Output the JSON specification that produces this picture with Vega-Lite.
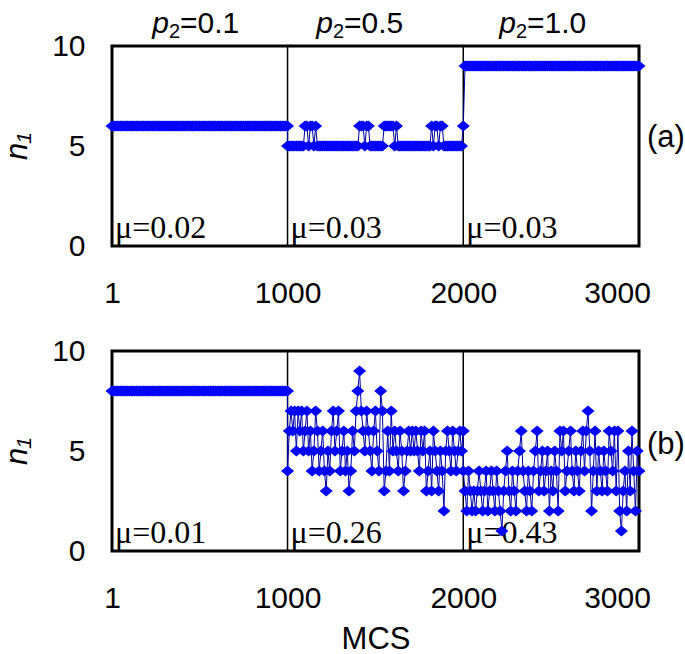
{
"$schema": "https://vega.github.io/schema/vega-lite/v6.json",
"padding": {"left": 0, "top": 7, "right": 0, "bottom": 0},
"bounds": "flush",
"spacing": 105,
"config": {
 "font": "Liberation Sans",
 "view": {"stroke": "black", "strokeWidth": 3},
 "axis": {"domain": false, "ticks": false, "grid": false, "labelColor": "black", "titleColor": "black", "titleFontWeight": "normal", "labelFontSize": 30, "titleFontSize": 31},
 "axisX": {"labelFontSize": 30, "labelPadding": 32, "labelFlush": false, "format": "d"},
 "axisY": {"labelPadding": 27, "titlePadding": 18}
},
"datasets": {
 "a": [
{"x":1,"y":6},{"x":10,"y":6},{"x":20,"y":6},{"x":30,"y":6},{"x":40,"y":6},{"x":50,"y":6},{"x":60,"y":6},{"x":70,"y":6},{"x":80,"y":6},{"x":90,"y":6},{"x":100,"y":6},{"x":110,"y":6},{"x":120,"y":6},{"x":130,"y":6},{"x":140,"y":6},{"x":150,"y":6},{"x":160,"y":6},{"x":170,"y":6},{"x":180,"y":6},{"x":190,"y":6},{"x":200,"y":6},{"x":210,"y":6},{"x":220,"y":6},{"x":230,"y":6},{"x":240,"y":6},{"x":250,"y":6},{"x":260,"y":6},{"x":270,"y":6},{"x":280,"y":6},{"x":290,"y":6},{"x":300,"y":6},{"x":310,"y":6},{"x":320,"y":6},{"x":330,"y":6},{"x":340,"y":6},{"x":350,"y":6},{"x":360,"y":6},{"x":370,"y":6},{"x":380,"y":6},{"x":390,"y":6},{"x":400,"y":6},{"x":410,"y":6},{"x":420,"y":6},{"x":430,"y":6},{"x":440,"y":6},{"x":450,"y":6},{"x":460,"y":6},{"x":470,"y":6},{"x":480,"y":6},{"x":490,"y":6},{"x":500,"y":6},{"x":510,"y":6},{"x":520,"y":6},{"x":530,"y":6},{"x":540,"y":6},{"x":550,"y":6},{"x":560,"y":6},{"x":570,"y":6},{"x":580,"y":6},{"x":590,"y":6},{"x":600,"y":6},{"x":610,"y":6},{"x":620,"y":6},{"x":630,"y":6},{"x":640,"y":6},{"x":650,"y":6},{"x":660,"y":6},{"x":670,"y":6},{"x":680,"y":6},{"x":690,"y":6},{"x":700,"y":6},{"x":710,"y":6},{"x":720,"y":6},{"x":730,"y":6},{"x":740,"y":6},{"x":750,"y":6},{"x":760,"y":6},{"x":770,"y":6},{"x":780,"y":6},{"x":790,"y":6},{"x":800,"y":6},{"x":810,"y":6},{"x":820,"y":6},{"x":830,"y":6},{"x":840,"y":6},{"x":850,"y":6},{"x":860,"y":6},{"x":870,"y":6},{"x":880,"y":6},{"x":890,"y":6},{"x":900,"y":6},{"x":910,"y":6},{"x":920,"y":6},{"x":930,"y":6},{"x":940,"y":6},{"x":950,"y":6},{"x":960,"y":6},{"x":970,"y":6},{"x":980,"y":6},{"x":990,"y":6},{"x":1000,"y":6},
{"x":1000,"y":5},{"x":1010,"y":5},{"x":1020,"y":5},{"x":1030,"y":5},{"x":1040,"y":5},{"x":1050,"y":5},{"x":1060,"y":5},{"x":1070,"y":5},{"x":1080,"y":5},{"x":1090,"y":5},
{"x":1100,"y":6},{"x":1110,"y":6},{"x":1120,"y":5},{"x":1130,"y":6},{"x":1140,"y":6},{"x":1150,"y":5},{"x":1160,"y":6},{"x":1170,"y":5},{"x":1180,"y":5},{"x":1190,"y":5},
{"x":1200,"y":5},{"x":1210,"y":5},{"x":1220,"y":5},{"x":1230,"y":5},{"x":1240,"y":5},{"x":1250,"y":5},{"x":1260,"y":5},{"x":1270,"y":5},{"x":1280,"y":5},{"x":1290,"y":5},
{"x":1300,"y":5},{"x":1310,"y":5},{"x":1320,"y":5},{"x":1330,"y":5},{"x":1340,"y":5},{"x":1350,"y":5},{"x":1360,"y":5},{"x":1370,"y":5},{"x":1380,"y":5},{"x":1390,"y":5},
{"x":1400,"y":5},{"x":1410,"y":6},{"x":1420,"y":6},{"x":1430,"y":6},{"x":1440,"y":5},{"x":1450,"y":6},{"x":1460,"y":6},{"x":1470,"y":5},{"x":1480,"y":5},{"x":1490,"y":5},
{"x":1500,"y":5},{"x":1510,"y":5},{"x":1520,"y":5},{"x":1530,"y":5},{"x":1540,"y":5},{"x":1550,"y":6},{"x":1560,"y":6},{"x":1570,"y":6},{"x":1580,"y":6},{"x":1590,"y":6},
{"x":1600,"y":6},{"x":1610,"y":5},{"x":1620,"y":6},{"x":1630,"y":5},{"x":1640,"y":5},{"x":1650,"y":5},{"x":1660,"y":5},{"x":1670,"y":5},{"x":1680,"y":5},{"x":1690,"y":5},
{"x":1700,"y":5},{"x":1710,"y":5},{"x":1720,"y":5},{"x":1730,"y":5},{"x":1740,"y":5},{"x":1750,"y":5},{"x":1760,"y":5},{"x":1770,"y":5},{"x":1780,"y":5},{"x":1790,"y":5},
{"x":1800,"y":5},{"x":1810,"y":5},{"x":1820,"y":6},{"x":1830,"y":5},{"x":1840,"y":6},{"x":1850,"y":6},{"x":1860,"y":5},{"x":1870,"y":6},{"x":1880,"y":6},{"x":1890,"y":5},
{"x":1900,"y":5},{"x":1910,"y":5},{"x":1920,"y":5},{"x":1930,"y":5},{"x":1940,"y":5},{"x":1950,"y":5},{"x":1960,"y":5},{"x":1970,"y":5},{"x":1980,"y":5},{"x":1990,"y":5},{"x":2000,"y":6},
{"x":2010,"y":9},{"x":2020,"y":9},{"x":2030,"y":9},{"x":2040,"y":9},{"x":2050,"y":9},{"x":2060,"y":9},{"x":2070,"y":9},{"x":2080,"y":9},{"x":2090,"y":9},{"x":2100,"y":9},{"x":2110,"y":9},{"x":2120,"y":9},{"x":2130,"y":9},{"x":2140,"y":9},{"x":2150,"y":9},{"x":2160,"y":9},{"x":2170,"y":9},{"x":2180,"y":9},{"x":2190,"y":9},{"x":2200,"y":9},{"x":2210,"y":9},{"x":2220,"y":9},{"x":2230,"y":9},{"x":2240,"y":9},{"x":2250,"y":9},{"x":2260,"y":9},{"x":2270,"y":9},{"x":2280,"y":9},{"x":2290,"y":9},{"x":2300,"y":9},{"x":2310,"y":9},{"x":2320,"y":9},{"x":2330,"y":9},{"x":2340,"y":9},{"x":2350,"y":9},{"x":2360,"y":9},{"x":2370,"y":9},{"x":2380,"y":9},{"x":2390,"y":9},{"x":2400,"y":9},{"x":2410,"y":9},{"x":2420,"y":9},{"x":2430,"y":9},{"x":2440,"y":9},{"x":2450,"y":9},{"x":2460,"y":9},{"x":2470,"y":9},{"x":2480,"y":9},{"x":2490,"y":9},{"x":2500,"y":9},{"x":2510,"y":9},{"x":2520,"y":9},{"x":2530,"y":9},{"x":2540,"y":9},{"x":2550,"y":9},{"x":2560,"y":9},{"x":2570,"y":9},{"x":2580,"y":9},{"x":2590,"y":9},{"x":2600,"y":9},{"x":2610,"y":9},{"x":2620,"y":9},{"x":2630,"y":9},{"x":2640,"y":9},{"x":2650,"y":9},{"x":2660,"y":9},{"x":2670,"y":9},{"x":2680,"y":9},{"x":2690,"y":9},{"x":2700,"y":9},{"x":2710,"y":9},{"x":2720,"y":9},{"x":2730,"y":9},{"x":2740,"y":9},{"x":2750,"y":9},{"x":2760,"y":9},{"x":2770,"y":9},{"x":2780,"y":9},{"x":2790,"y":9},{"x":2800,"y":9},{"x":2810,"y":9},{"x":2820,"y":9},{"x":2830,"y":9},{"x":2840,"y":9},{"x":2850,"y":9},{"x":2860,"y":9},{"x":2870,"y":9},{"x":2880,"y":9},{"x":2890,"y":9},{"x":2900,"y":9},{"x":2910,"y":9},{"x":2920,"y":9},{"x":2930,"y":9},{"x":2940,"y":9},{"x":2950,"y":9},{"x":2960,"y":9},{"x":2970,"y":9},{"x":2980,"y":9},{"x":2990,"y":9},{"x":3000,"y":9}
 ],
 "b": [
{"x":1,"y":8},{"x":10,"y":8},{"x":20,"y":8},{"x":30,"y":8},{"x":40,"y":8},{"x":50,"y":8},{"x":60,"y":8},{"x":70,"y":8},{"x":80,"y":8},{"x":90,"y":8},{"x":100,"y":8},{"x":110,"y":8},{"x":120,"y":8},{"x":130,"y":8},{"x":140,"y":8},{"x":150,"y":8},{"x":160,"y":8},{"x":170,"y":8},{"x":180,"y":8},{"x":190,"y":8},{"x":200,"y":8},{"x":210,"y":8},{"x":220,"y":8},{"x":230,"y":8},{"x":240,"y":8},{"x":250,"y":8},{"x":260,"y":8},{"x":270,"y":8},{"x":280,"y":8},{"x":290,"y":8},{"x":300,"y":8},{"x":310,"y":8},{"x":320,"y":8},{"x":330,"y":8},{"x":340,"y":8},{"x":350,"y":8},{"x":360,"y":8},{"x":370,"y":8},{"x":380,"y":8},{"x":390,"y":8},{"x":400,"y":8},{"x":410,"y":8},{"x":420,"y":8},{"x":430,"y":8},{"x":440,"y":8},{"x":450,"y":8},{"x":460,"y":8},{"x":470,"y":8},{"x":480,"y":8},{"x":490,"y":8},{"x":500,"y":8},{"x":510,"y":8},{"x":520,"y":8},{"x":530,"y":8},{"x":540,"y":8},{"x":550,"y":8},{"x":560,"y":8},{"x":570,"y":8},{"x":580,"y":8},{"x":590,"y":8},{"x":600,"y":8},{"x":610,"y":8},{"x":620,"y":8},{"x":630,"y":8},{"x":640,"y":8},{"x":650,"y":8},{"x":660,"y":8},{"x":670,"y":8},{"x":680,"y":8},{"x":690,"y":8},{"x":700,"y":8},{"x":710,"y":8},{"x":720,"y":8},{"x":730,"y":8},{"x":740,"y":8},{"x":750,"y":8},{"x":760,"y":8},{"x":770,"y":8},{"x":780,"y":8},{"x":790,"y":8},{"x":800,"y":8},{"x":810,"y":8},{"x":820,"y":8},{"x":830,"y":8},{"x":840,"y":8},{"x":850,"y":8},{"x":860,"y":8},{"x":870,"y":8},{"x":880,"y":8},{"x":890,"y":8},{"x":900,"y":8},{"x":910,"y":8},{"x":920,"y":8},{"x":930,"y":8},{"x":940,"y":8},{"x":950,"y":8},{"x":960,"y":8},{"x":970,"y":8},{"x":980,"y":8},{"x":990,"y":8},{"x":1000,"y":8},
{"x":1000,"y":4},{"x":1010,"y":6},{"x":1020,"y":7},{"x":1030,"y":6},{"x":1040,"y":7},{"x":1050,"y":5},{"x":1060,"y":7},{"x":1070,"y":6},{"x":1080,"y":7},{"x":1090,"y":5},
{"x":1100,"y":6},{"x":1110,"y":7},{"x":1120,"y":5},{"x":1130,"y":6},{"x":1140,"y":4},{"x":1150,"y":5},{"x":1160,"y":7},{"x":1170,"y":6},{"x":1180,"y":4},{"x":1190,"y":5},
{"x":1200,"y":6},{"x":1210,"y":4},{"x":1220,"y":3},{"x":1230,"y":5},{"x":1240,"y":4},{"x":1250,"y":6},{"x":1260,"y":7},{"x":1270,"y":5},{"x":1280,"y":6},{"x":1290,"y":7},
{"x":1300,"y":4},{"x":1310,"y":5},{"x":1320,"y":6},{"x":1330,"y":4},{"x":1340,"y":5},{"x":1350,"y":3},{"x":1360,"y":4},{"x":1370,"y":6},{"x":1380,"y":5},{"x":1390,"y":7},
{"x":1400,"y":8},{"x":1410,"y":9},{"x":1420,"y":7},{"x":1430,"y":6},{"x":1440,"y":5},{"x":1450,"y":7},{"x":1460,"y":6},{"x":1470,"y":5},{"x":1480,"y":4},{"x":1490,"y":6},
{"x":1500,"y":7},{"x":1510,"y":5},{"x":1520,"y":4},{"x":1530,"y":8},{"x":1540,"y":7},{"x":1550,"y":3},{"x":1560,"y":4},{"x":1570,"y":6},{"x":1580,"y":4},{"x":1590,"y":7},
{"x":1600,"y":5},{"x":1610,"y":6},{"x":1620,"y":5},{"x":1630,"y":4},{"x":1640,"y":6},{"x":1650,"y":5},{"x":1660,"y":3},{"x":1670,"y":4},{"x":1680,"y":5},{"x":1690,"y":6},
{"x":1700,"y":5},{"x":1710,"y":6},{"x":1720,"y":5},{"x":1730,"y":6},{"x":1740,"y":5},{"x":1750,"y":4},{"x":1760,"y":6},{"x":1770,"y":5},{"x":1780,"y":6},{"x":1790,"y":3},
{"x":1800,"y":4},{"x":1810,"y":5},{"x":1820,"y":3},{"x":1830,"y":6},{"x":1840,"y":5},{"x":1850,"y":4},{"x":1860,"y":3},{"x":1870,"y":5},{"x":1880,"y":4},{"x":1890,"y":2},
{"x":1900,"y":5},{"x":1910,"y":6},{"x":1920,"y":5},{"x":1930,"y":4},{"x":1940,"y":6},{"x":1950,"y":5},{"x":1960,"y":4},{"x":1970,"y":5},{"x":1980,"y":6},{"x":1990,"y":5},{"x":2000,"y":6},
{"x":2000,"y":4},{"x":2010,"y":3},{"x":2020,"y":2},{"x":2030,"y":4},{"x":2040,"y":3},{"x":2050,"y":2},{"x":2060,"y":3},{"x":2070,"y":2},{"x":2080,"y":3},{"x":2090,"y":4},
{"x":2100,"y":3},{"x":2110,"y":2},{"x":2120,"y":3},{"x":2130,"y":4},{"x":2140,"y":2},{"x":2150,"y":3},{"x":2160,"y":4},{"x":2170,"y":3},{"x":2180,"y":2},{"x":2190,"y":4},
{"x":2200,"y":3},{"x":2210,"y":2},{"x":2220,"y":1},{"x":2230,"y":3},{"x":2240,"y":4},{"x":2250,"y":5},{"x":2260,"y":3},{"x":2270,"y":2},{"x":2280,"y":4},{"x":2290,"y":3},
{"x":2300,"y":2},{"x":2310,"y":4},{"x":2320,"y":5},{"x":2330,"y":6},{"x":2340,"y":4},{"x":2350,"y":3},{"x":2360,"y":2},{"x":2370,"y":4},{"x":2380,"y":3},{"x":2390,"y":2},
{"x":2400,"y":4},{"x":2410,"y":5},{"x":2420,"y":6},{"x":2430,"y":3},{"x":2440,"y":4},{"x":2450,"y":5},{"x":2460,"y":3},{"x":2470,"y":4},{"x":2480,"y":5},{"x":2490,"y":2},
{"x":2500,"y":4},{"x":2510,"y":3},{"x":2520,"y":5},{"x":2530,"y":4},{"x":2540,"y":2},{"x":2550,"y":6},{"x":2560,"y":5},{"x":2570,"y":6},{"x":2580,"y":3},{"x":2590,"y":4},
{"x":2600,"y":5},{"x":2610,"y":6},{"x":2620,"y":4},{"x":2630,"y":3},{"x":2640,"y":5},{"x":2650,"y":4},{"x":2660,"y":3},{"x":2670,"y":5},{"x":2680,"y":6},{"x":2690,"y":4},
{"x":2700,"y":6},{"x":2710,"y":7},{"x":2720,"y":5},{"x":2730,"y":2},{"x":2740,"y":4},{"x":2750,"y":6},{"x":2760,"y":3},{"x":2770,"y":5},{"x":2780,"y":4},{"x":2790,"y":3},
{"x":2800,"y":5},{"x":2810,"y":4},{"x":2820,"y":3},{"x":2830,"y":6},{"x":2840,"y":5},{"x":2850,"y":4},{"x":2860,"y":6},{"x":2870,"y":3},{"x":2880,"y":6},{"x":2890,"y":2},
{"x":2900,"y":1},{"x":2910,"y":3},{"x":2920,"y":4},{"x":2930,"y":2},{"x":2940,"y":5},{"x":2950,"y":3},{"x":2960,"y":6},{"x":2970,"y":4},{"x":2980,"y":2},{"x":2990,"y":5},{"x":3000,"y":4}
 ],
 "sep": [{"x":1000},{"x":2000}],
 "muA": [{"x":1,"t":"μ=0.02"},{"x":1000,"t":"μ=0.03"},{"x":2000,"t":"μ=0.03"}],
 "muB": [{"x":1,"t":"μ=0.01"},{"x":1000,"t":"μ=0.26"},{"x":2000,"t":"μ=0.43"}],
 "hdr": [{"x":325,"p":"p","s":"2","r":"=0.1"},{"x":1259,"p":"p","s":"2","r":"=0.5"},{"x":2300,"p":"p","s":"2","r":"=1.0"}],
 "labA": [{"x":3000,"t":"(a)"}],
 "labB": [{"x":3000,"t":"(b)"}]
},
"vconcat": [
 {
  "width": 527, "height": 200,
  "layer": [
   {"data": {"name": "sep"}, "mark": {"type": "rule", "color": "black", "strokeWidth": 1.5},
    "encoding": {"x": {"field": "x", "type": "quantitative", "scale": {"domain": [1, 3000], "nice": false, "zero": false}}}},
   {"data": {"name": "muA"}, "mark": {"type": "text", "align": "left", "baseline": "alphabetic", "dx": 3, "font": "Liberation Serif", "fontSize": 32, "color": "black"},
    "encoding": {"x": {"field": "x", "type": "quantitative"}, "y": {"datum": 0.4}, "text": {"field": "t"}}},
   {"data": {"name": "a"}, "mark": {"type": "line", "color": "#0000A0", "strokeWidth": 1, "point": {"shape": "M-1,0L0,-0.85L1,0L0,0.85Z", "size": 170, "filled": true, "color": "#0000FF", "opacity": 1}},
    "encoding": {
     "x": {"field": "x", "type": "quantitative", "scale": {"domain": [1, 3000], "nice": false, "zero": false},
       "axis": {"values": [1, 1000, 2000, 3000], "title": null, "labelOffset": {"condition": {"test": "datum.value == 3000", "value": -22}, "value": 0}}},
     "y": {"field": "y", "type": "quantitative", "scale": {"domain": [0, 10], "nice": false}, "axis": {"values": [0, 5, 10], "title": "n₁", "titleFontStyle": "italic"}}
    }},
   {"data": {"name": "hdr"}, "mark": {"type": "text", "align": "right", "baseline": "alphabetic", "fontSize": 30, "fontStyle": "italic", "color": "black"},
    "encoding": {"x": {"field": "x", "type": "quantitative"}, "y": {"datum": 10.65}, "text": {"field": "p"}}},
   {"data": {"name": "hdr"}, "mark": {"type": "text", "align": "left", "baseline": "alphabetic", "fontSize": 20, "dy": 5, "color": "black"},
    "encoding": {"x": {"field": "x", "type": "quantitative"}, "y": {"datum": 10.65}, "text": {"field": "s"}}},
   {"data": {"name": "hdr"}, "mark": {"type": "text", "align": "left", "baseline": "alphabetic", "fontSize": 30, "dx": 11, "color": "black"},
    "encoding": {"x": {"field": "x", "type": "quantitative"}, "y": {"datum": 10.65}, "text": {"field": "r"}}},
   {"data": {"name": "labA"}, "mark": {"type": "text", "align": "left", "baseline": "middle", "fontSize": 31, "dx": 8, "color": "black"},
    "encoding": {"x": {"field": "x", "type": "quantitative"}, "y": {"datum": 5.4}, "text": {"field": "t"}}}
  ]
 },
 {
  "width": 527, "height": 200,
  "layer": [
   {"data": {"name": "sep"}, "mark": {"type": "rule", "color": "black", "strokeWidth": 1.5},
    "encoding": {"x": {"field": "x", "type": "quantitative", "scale": {"domain": [1, 3000], "nice": false, "zero": false}}}},
   {"data": {"name": "muB"}, "mark": {"type": "text", "align": "left", "baseline": "alphabetic", "dx": 3, "font": "Liberation Serif", "fontSize": 32, "color": "black"},
    "encoding": {"x": {"field": "x", "type": "quantitative"}, "y": {"datum": 0.4}, "text": {"field": "t"}}},
   {"data": {"name": "b"}, "mark": {"type": "line", "color": "#0000A0", "strokeWidth": 1, "point": {"shape": "M-1,0L0,-0.85L1,0L0,0.85Z", "size": 170, "filled": true, "color": "#0000FF", "opacity": 1}},
    "encoding": {
     "x": {"field": "x", "type": "quantitative", "scale": {"domain": [1, 3000], "nice": false, "zero": false},
       "axis": {"values": [1, 1000, 2000, 3000], "title": "MCS", "titlePadding": 11, "labelOffset": {"condition": {"test": "datum.value == 3000", "value": -22}, "value": 0}}},
     "y": {"field": "y", "type": "quantitative", "scale": {"domain": [0, 10], "nice": false}, "axis": {"values": [0, 5, 10], "title": "n₁", "titleFontStyle": "italic"}}
    }},
   {"data": {"name": "labB"}, "mark": {"type": "text", "align": "left", "baseline": "middle", "fontSize": 31, "dx": 8, "color": "black"},
    "encoding": {"x": {"field": "x", "type": "quantitative"}, "y": {"datum": 5.3}, "text": {"field": "t"}}}
  ]
 }
]
}
